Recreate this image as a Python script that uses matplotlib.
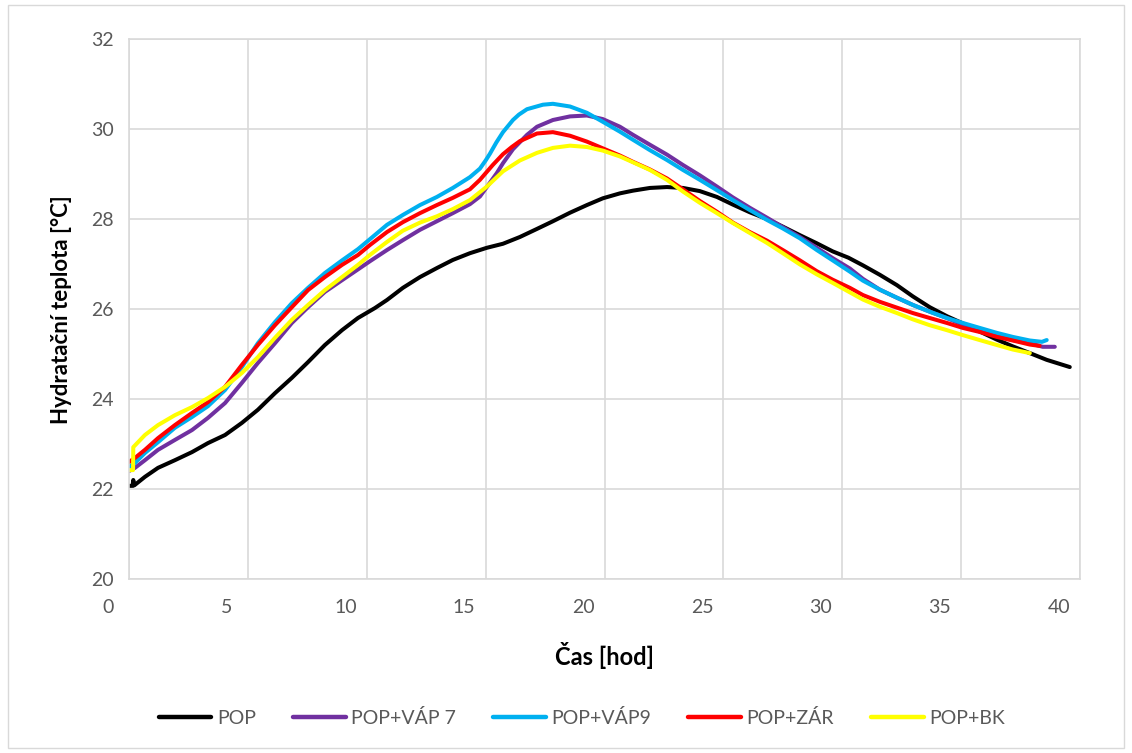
import matplotlib
matplotlib.use("Agg")
import matplotlib.pyplot as plt
from matplotlib.patches import Rectangle
import matplotlib.transforms as mtransforms

plt.rcParams['font.family'] = ['Lato', 'DejaVu Sans']

# ---- data (time in hours, temperature in °C) ----
pop_t = [0.9, 1.05, 1.08, 1.12, 1.57, 2.12, 2.83, 3.55, 4.22, 4.94, 5.65, 6.32, 7.04, 7.75,
         8.43, 9.14, 9.86, 10.53, 11.24, 11.75, 12.42, 13.14, 13.85, 14.52, 15.24, 15.95,
         16.63, 17.34, 18.06, 18.73, 19.45, 20.16, 20.83, 21.55, 22.1, 22.81, 23.53, 24.2,
         24.91, 25.63, 26.3, 27.01, 27.73, 28.4, 29.12, 29.83, 30.5, 31.16, 31.77, 32.48,
         33.2, 33.87, 34.58, 35.3, 35.97, 36.68, 37.4, 38.07, 38.79, 39.5, 40.47]
pop_v = [22.07, 22.07, 22.2, 22.08, 22.27, 22.47, 22.64, 22.82, 23.02, 23.2, 23.47, 23.76,
         24.13, 24.47, 24.82, 25.2, 25.53, 25.8, 26.02, 26.2, 26.47, 26.71, 26.91, 27.09,
         27.24, 27.36, 27.45, 27.6, 27.78, 27.95, 28.14, 28.31, 28.46, 28.57, 28.63, 28.69,
         28.71, 28.69, 28.62, 28.49, 28.32, 28.15, 28.0, 27.83, 27.64, 27.46, 27.28, 27.14,
         26.97, 26.76, 26.53, 26.28, 26.04, 25.84, 25.68, 25.5, 25.32, 25.17, 25.02, 24.87,
         24.71]

vap7_t = [0.9, 1.15, 1.57, 2.12, 2.83, 3.55, 4.22, 4.94, 5.65, 6.32, 7.04, 7.75, 8.43, 9.14,
          9.86, 10.53, 11.03, 11.75, 12.42, 13.14, 13.85, 14.52, 15.24, 15.66, 15.95, 16.37,
          16.63, 17.05, 17.64, 18.06, 18.73, 19.45, 20.16, 20.83, 21.55, 22.1, 22.81, 23.53,
          24.2, 24.91, 25.63, 26.3, 27.01, 27.73, 28.4, 29.12, 29.83, 30.5, 31.22, 31.77,
          32.48, 33.2, 33.87, 34.58, 35.3, 35.97, 36.68, 37.4, 38.07, 38.79, 39.33, 39.84]
vap7_v = [22.4, 22.47, 22.64, 22.87, 23.09, 23.31, 23.58, 23.91, 24.36, 24.8, 25.24, 25.69,
          26.04, 26.38, 26.64, 26.88, 27.06, 27.31, 27.53, 27.76, 27.95, 28.13, 28.33, 28.5,
          28.71, 29.02, 29.24, 29.55, 29.87, 30.05, 30.2, 30.28, 30.3, 30.22, 30.05, 29.87,
          29.65, 29.43, 29.2, 28.97, 28.72, 28.48, 28.25, 28.03, 27.82, 27.6, 27.36, 27.13,
          26.9, 26.67, 26.43, 26.25, 26.09, 25.94, 25.8, 25.65, 25.53, 25.42, 25.31, 25.24,
          25.16, 25.16]

vap9_t = [0.9, 1.15, 1.57, 2.12, 2.83, 3.55, 4.22, 4.94, 5.65, 6.32, 7.04, 7.75, 8.43, 9.14,
          9.86, 10.53, 11.03, 11.75, 12.42, 13.14, 13.85, 14.52, 15.24, 15.66, 15.9, 16.08,
          16.35, 16.63, 17.05, 17.3, 17.64, 18.31, 18.73, 19.45, 20.16, 20.83, 21.55, 22.1,
          22.81, 23.53, 24.2, 24.91, 25.63, 26.3, 27.01, 27.73, 28.4, 29.12, 29.83, 30.5,
          31.22, 31.77, 32.48, 33.2, 33.87, 34.58, 35.3, 35.97, 36.68, 37.4, 38.07, 38.79,
          39.3, 39.5]
vap9_v = [22.49, 22.58, 22.8, 23.04, 23.36, 23.6, 23.84, 24.2, 24.71, 25.24, 25.71, 26.13,
          26.47, 26.8, 27.08, 27.33, 27.55, 27.87, 28.09, 28.31, 28.49, 28.69, 28.93, 29.12,
          29.3, 29.45, 29.7, 29.93, 30.2, 30.32, 30.44, 30.54, 30.56, 30.5, 30.36, 30.16,
          29.94, 29.76, 29.53, 29.31, 29.09, 28.87, 28.64, 28.42, 28.2, 27.98, 27.79, 27.57,
          27.31, 27.08, 26.83, 26.63, 26.43, 26.25, 26.09, 25.94, 25.8, 25.69, 25.58, 25.47,
          25.38, 25.3, 25.27, 25.31]

zar_t = [0.9, 1.15, 1.57, 2.12, 2.83, 3.55, 4.22, 4.94, 5.65, 6.32, 7.04, 7.75, 8.43, 9.14,
         9.86, 10.53, 11.03, 11.75, 12.42, 13.14, 13.85, 14.52, 15.24, 15.66, 16.2, 16.63,
         17.0, 17.34, 18.06, 18.73, 19.45, 20.16, 20.83, 21.55, 22.1, 22.81, 23.53, 24.2,
         24.91, 25.63, 26.3, 27.01, 27.73, 28.4, 29.12, 29.83, 30.5, 31.22, 31.77, 32.48,
         33.2, 33.87, 34.58, 35.3, 35.97, 36.68, 37.4, 38.07, 38.79, 39.2]
zar_v = [22.6, 22.69, 22.87, 23.13, 23.42, 23.69, 23.93, 24.27, 24.76, 25.2, 25.64, 26.04,
         26.42, 26.71, 26.98, 27.2, 27.42, 27.71, 27.93, 28.13, 28.31, 28.47, 28.66, 28.87,
         29.2, 29.44, 29.6, 29.73, 29.9, 29.93, 29.85, 29.72, 29.57, 29.41, 29.27, 29.1,
         28.9, 28.66, 28.4, 28.16, 27.92, 27.71, 27.52, 27.31, 27.08, 26.84, 26.65, 26.47,
         26.31, 26.16, 26.03, 25.91, 25.8, 25.69, 25.58, 25.49, 25.38, 25.3, 25.21, 25.18]

bk_t = [0.9, 1.07, 1.08, 1.28, 1.57, 2.12, 2.83, 3.55, 4.22, 4.94, 5.65, 6.32, 7.04, 7.75,
        8.43, 9.14, 9.86, 10.53, 11.03, 11.75, 12.42, 13.14, 13.85, 14.52, 15.24, 15.95,
        16.37, 16.63, 17.34, 18.06, 18.73, 19.45, 20.16, 20.83, 21.55, 22.1, 22.81, 23.53,
        24.2, 24.91, 25.63, 26.3, 27.01, 27.73, 28.4, 29.12, 29.83, 30.5, 31.22, 31.77,
        32.48, 33.2, 33.87, 34.58, 35.3, 35.97, 36.68, 37.4, 38.07, 38.79]
bk_v = [22.42, 22.42, 22.93, 23.04, 23.2, 23.42, 23.64, 23.82, 24.02, 24.27, 24.58, 24.93,
        25.36, 25.76, 26.09, 26.42, 26.71, 26.98, 27.2, 27.49, 27.74, 27.92, 28.06, 28.22,
        28.42, 28.72, 28.93, 29.06, 29.3, 29.47, 29.58, 29.63, 29.6, 29.52, 29.39, 29.26,
        29.09, 28.87, 28.61, 28.36, 28.13, 27.91, 27.69, 27.47, 27.24, 26.99, 26.77, 26.58,
        26.37, 26.21, 26.05, 25.91, 25.77, 25.64, 25.53, 25.42, 25.31, 25.2, 25.1, 25.02]

series_names = ["POP", "POP+VÁP 7", "POP+VÁP9", "POP+ZÁR", "POP+BK"]
series_colors = ["#000000", "#7030A0", "#00B0F0", "#FF0000", "#FFFF00"]
x_tick_labels = [0, 5, 10, 15, 20, 25, 30, 35, 40]
y_ticks = [20, 22, 24, 26, 28, 30, 32]

W, H = 1132, 753
fig = plt.figure(figsize=(W / 100, H / 100), dpi=100)
fig.patch.set_facecolor("white")
fig.add_artist(Rectangle((8 / W, 5 / H), (1124 - 8) / W, (748 - 5) / H,
                         transform=fig.transFigure, fill=False,
                         edgecolor="#d9d9d9", linewidth=1.0))

ax = fig.add_axes([129 / W, 1 - 579 / H, (1080 - 129) / W, (579 - 39) / H])

x_offset = 0.9  # gridlines sit 0.9 h to the right of the tick labels
ax.set_xlim(x_offset, 40 + x_offset)
ax.set_ylim(20, 32)
ax.set_xticks([v + x_offset for v in x_tick_labels])
ax.set_xticklabels([])
ax.set_yticks(y_ticks)
ax.set_yticklabels([str(v) for v in y_ticks])
ax.tick_params(axis="both", length=0, labelsize=14, labelcolor="#595959")
ax.tick_params(axis="y", pad=11)
ax.grid(True, color="#d9d9d9", linewidth=1.2)
ax.set_axisbelow(True)
for s in ax.spines.values():
    s.set_color("#d9d9d9")
    s.set_linewidth(1.2)

trans = mtransforms.blended_transform_factory(ax.transData, ax.transAxes)
for v in x_tick_labels:
    ax.text(v, -0.053, str(v), transform=trans, ha="center", va="center",
            fontsize=14, color="#595959", clip_on=False)

data = [(pop_t, pop_v), (vap7_t, vap7_v), (vap9_t, vap9_v), (zar_t, zar_v), (bk_t, bk_v)]
for (t, v), name, c in zip(data, series_names, series_colors):
    ax.plot(t, v, color=c, linewidth=2.9, label=name,
            solid_joinstyle="round", solid_capstyle="round")

ax.set_xlabel("Čas [hod]", fontsize=17, fontweight="bold")
ax.xaxis.set_label_coords(0.5, -0.117)
ax.set_ylabel("Hydratační teplota [°C]", fontsize=16, fontweight="bold")
ax.yaxis.set_label_coords(-0.06, 0.498)

leg = fig.legend(loc="center", bbox_to_anchor=(582 / W, 1 - 718 / H), ncol=5,
                 frameon=False, fontsize=14, handlelength=2.7, handletextpad=0.3,
                 columnspacing=1.9)
for line in leg.get_lines():
    line.set_linewidth(3.2)
for txt in leg.get_texts():
    txt.set_color("#595959")

fig.savefig("out.png", dpi=100)
